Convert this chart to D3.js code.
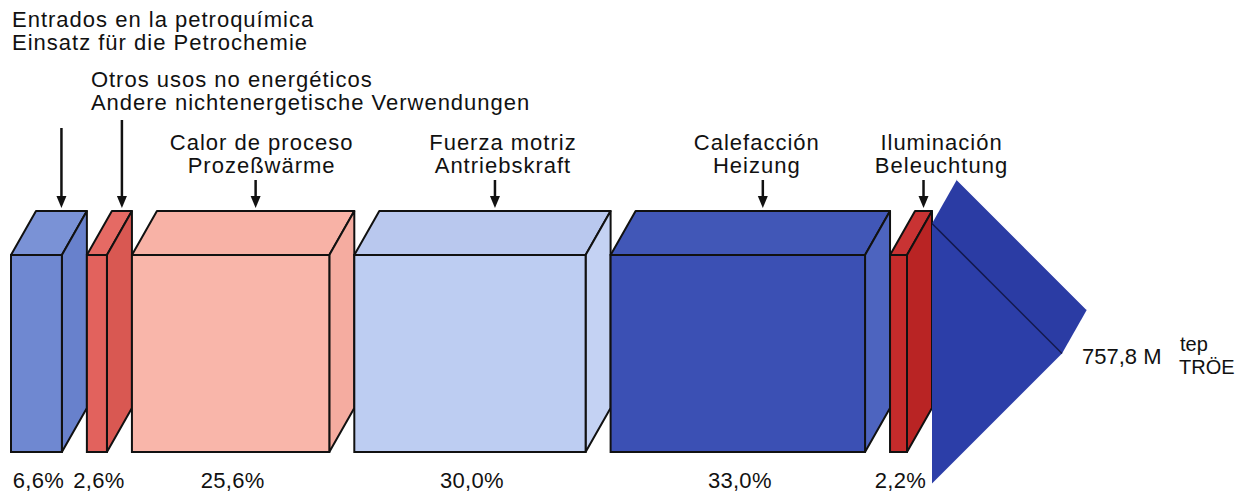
<!DOCTYPE html>
<html>
<head>
<meta charset="utf-8">
<script src="https://cdn.jsdelivr.net/npm/d3@7"></script>
<style>
  body { margin: 0; background: #fff; }
  svg text { font-family: "Liberation Sans", Arial, Helvetica, sans-serif; fill: #111; }
</style>
</head>
<body>
<div id="chart"></div>
<script>
// end uses of energy, share of total
const usesEs = ["Entrados en la petroquímica", "Otros usos no energéticos", "Calor de proceso",
                "Fuerza motriz", "Calefacción", "Iluminación"];
const usesDe = ["Einsatz für die Petrochemie", "Andere nichtenergetische Verwendungen", "Prozeßwärme",
                "Antriebskraft", "Heizung", "Beleuchtung"];
const shares = [6.6, 2.6, 25.6, 30.0, 33.0, 2.2];
const shareLabels = ["6,6%", "2,6%", "25,6%", "30,0%", "33,0%", "2,2%"];
const totalLabel = "757,8 M";
const unitLabels = ["tep", "TRÖE"];

// front / top / side colours
const palette = [
  { front: "#6f88d1", top: "#7a92d6", side: "#6881cc" },
  { front: "#e2625d", top: "#e56a64", side: "#d95852" },
  { front: "#f9b6aa", top: "#f8b2a6", side: "#f5aca0" },
  { front: "#bdcdf2", top: "#b9c8ee", side: "#c4d2f3" },
  { front: "#3b50b4", top: "#4157b7", side: "#4d64bf" },
  { front: "#c42b2b", top: "#c93333", side: "#b92424" }
];
const arrowFront = "#2c3ea8", arrowTop = "#2b3ca4";

const width = 1241, height = 495;
const svg = d3.select("#chart").append("svg")
  .attr("width", width).attr("height", height);

const left = 11, right = 932;
const dx = 25, dy = -44;
const frontTop = 255, bottom = 452;
const x = d3.scaleLinear()
  .domain([0, d3.sum(shares)])
  .range([0, right - left - shares.length * dx]);

// cumulative positions, each box starts at the back edge of the previous one
let cursor = left;
const boxes = shares.map((s, i) => {
  const w = x(s);
  const b = { i, x0: cursor, w };
  cursor += w + dx;
  return b;
});

const line = d3.line();
const g = svg.append("g");

boxes.forEach(b => {
  const c = palette[b.i];
  const x0 = b.x0, x1 = b.x0 + b.w;
  // top face
  g.append("path")
    .attr("d", line([[x0, frontTop], [x0 + dx, frontTop + dy], [x1 + dx, frontTop + dy], [x1, frontTop]]) + "Z")
    .attr("fill", c.top).attr("stroke", "#111").attr("stroke-width", 2).attr("stroke-linejoin", "round");
  // side face
  g.append("path")
    .attr("d", line([[x1, frontTop], [x1 + dx, frontTop + dy], [x1 + dx, bottom + dy], [x1, bottom]]) + "Z")
    .attr("fill", c.side).attr("stroke", "#111").attr("stroke-width", 2).attr("stroke-linejoin", "round");
  // front face
  g.append("rect")
    .attr("x", x0).attr("y", frontTop)
    .attr("width", b.w).attr("height", bottom - frontTop)
    .attr("fill", c.front).attr("stroke", "#111").attr("stroke-width", 2);
});

// big arrow head at the end
const mid = (frontTop + bottom) / 2;
const H = 130;
const ax = cursor;
g.append("path")
  .attr("d", line([[ax, mid - H], [ax + dx, mid - H + dy], [ax + H + dx, mid + dy], [ax + H, mid]]) + "Z")
  .attr("fill", arrowTop);
g.append("path")
  .attr("d", line([[ax, mid - H], [ax + H, mid], [ax, mid + H]]) + "Z")
  .attr("fill", arrowFront);
g.append("path")
  .attr("d", line([[ax, mid - H], [ax + H, mid]]))
  .attr("stroke", "#10164a").attr("stroke-width", 1.5).attr("fill", "none");
g.append("path")
  .attr("d", line([[ax + dx, mid - H + dy], [ax + H + dx, mid + dy]]))
  .attr("stroke", "#fff").attr("stroke-width", 1.5).attr("fill", "none");

// labels and pointer arrows
const labelBase = [27, 87, 150, 150, 150, 150];
const labelShift = [0, 3, 6, 8, -6, 18];
const arrowStart = [128, 120, 180, 180, 180, 180];
boxes.forEach(b => {
  const i = b.i;
  const px = b.x0 + dx + b.w / 2;
  const anchored = i < 2;
  const lx = (anchored ? b.x0 + 1 : px) + labelShift[i];
  const t = svg.append("text")
    .attr("font-size", 22)
    .attr("letter-spacing", 1)
    .attr("text-anchor", anchored ? "start" : "middle");
  t.append("tspan").attr("x", lx).attr("y", labelBase[i]).text(usesEs[i]);
  t.append("tspan").attr("x", lx).attr("y", labelBase[i] + 23).text(usesDe[i]);

  const tipY = frontTop + dy - 3;
  svg.append("line")
    .attr("x1", px).attr("x2", px)
    .attr("y1", arrowStart[i]).attr("y2", tipY - 8)
    .attr("stroke", "#111").attr("stroke-width", 2.5);
  svg.append("path")
    .attr("d", line([[px - 5, tipY - 12], [px + 5, tipY - 12], [px, tipY]]) + "Z")
    .attr("fill", "#111");

  svg.append("text")
    .attr("x", b.x0 + b.w / 2 + 2).attr("y", 488)
    .attr("font-size", 22).attr("letter-spacing", 0.3).attr("text-anchor", "middle")
    .text(shareLabels[i]);
});

// total
svg.append("text")
  .attr("x", ax + H + 20).attr("y", mid + 10)
  .attr("font-size", 22).text(totalLabel);
svg.append("text")
  .attr("x", ax + H + 118).attr("y", mid - 3)
  .attr("font-size", 20).text(unitLabels[0]);
svg.append("text")
  .attr("x", ax + H + 117).attr("y", mid + 20)
  .attr("font-size", 20).text(unitLabels[1]);
</script>
</body>
</html>
